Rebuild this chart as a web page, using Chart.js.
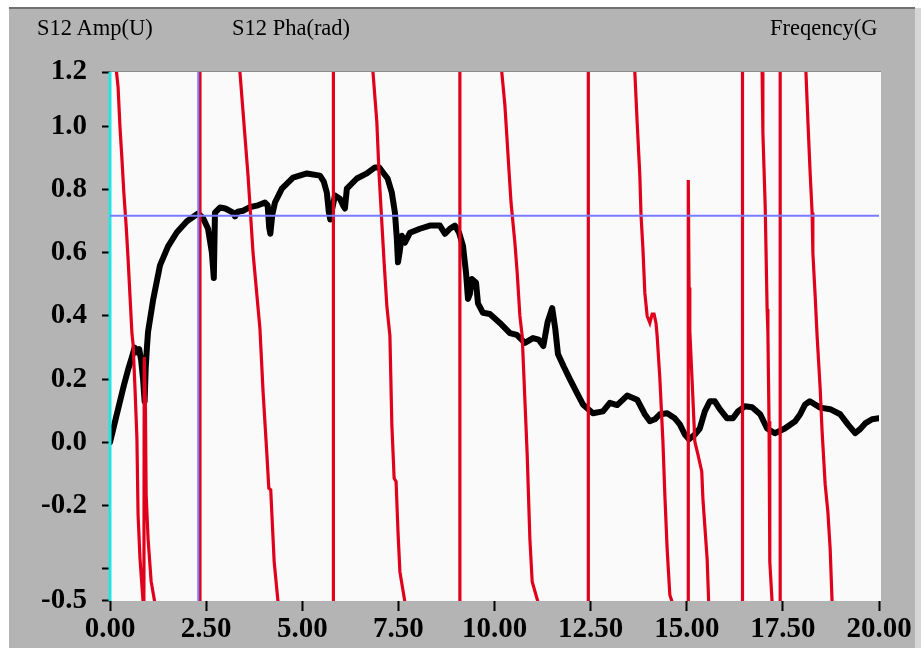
<!DOCTYPE html>
<html>
<head>
<meta charset="utf-8">
<script src="https://cdn.jsdelivr.net/npm/chart.js@4/dist/chart.umd.min.js"></script>
<style>
  html, body { margin: 0; padding: 0; background: #fff; }
  #wrap { position: relative; width: 921px; height: 648px; }
  #grafica { position: absolute; left: 0; top: 0; }
  .cab { position: absolute; top: 15px; font: 22.5px 'Liberation Serif', 'Times New Roman', serif; color: #000; white-space: nowrap; }
</style>
</head>
<body>
<div id="wrap">
  <canvas id="grafica" width="921" height="648"></canvas>
  <div class="cab" style="left:37px">S12 Amp(U)</div>
  <div class="cab" style="left:232px">S12 Pha(rad)</div>
  <div class="cab" style="left:770px">Freqency(G</div>
</div>
<script>
// ── DATOS ─────────────────────────────────────────────────────
// S12 amplitud (negro)
const ampFreq = [0.00, 0.08, 0.16, 0.26, 0.36, 0.47, 0.57, 0.64, 0.70, 0.76, 0.81, 0.86, 0.90, 0.93, 0.96, 0.99,
  1.12, 1.30, 1.51, 1.74, 2.00, 2.29, 2.42, 2.55, 2.65, 2.70, 2.73, 2.86, 3.00, 3.20, 3.25, 3.32, 3.46, 3.65, 3.82,
  4.03, 4.10, 4.14, 4.17, 4.22, 4.29, 4.47, 4.76, 5.12, 5.46, 5.56, 5.64, 5.69, 5.73, 5.78, 5.85, 5.98, 6.06, 6.11,
  6.16, 6.42, 6.68, 6.89, 7.00, 7.10, 7.22, 7.33, 7.41, 7.46, 7.49, 7.53, 7.59, 7.67, 7.80, 8.06, 8.32, 8.58, 8.71,
  8.84, 8.97, 9.08, 9.18, 9.26, 9.31, 9.36, 9.41, 9.52, 9.57, 9.70, 9.88, 10.14, 10.40, 10.58, 10.79, 11.00, 11.15,
  11.27, 11.38, 11.50, 11.58, 11.65, 11.80, 11.96, 12.15, 12.30, 12.56, 12.82, 13.00, 13.19, 13.45, 13.71, 13.91,
  14.04, 14.17, 14.30, 14.49, 14.69, 14.82, 14.95, 15.06, 15.21, 15.34, 15.47, 15.60, 15.73, 15.86, 16.05, 16.20,
  16.33, 16.51, 16.70, 16.91, 17.09, 17.29, 17.55, 17.82, 17.95, 18.08, 18.20, 18.47, 18.73, 18.99, 19.19, 19.38,
  19.50, 19.64, 19.82, 20.00];
const ampValor = [0.00, 0.04, 0.08, 0.13, 0.18, 0.23, 0.27, 0.30, 0.285, 0.295, 0.26, 0.20, 0.13, 0.24, 0.30, 0.35,
  0.45, 0.56, 0.62, 0.665, 0.70, 0.724, 0.71, 0.676, 0.60, 0.52, 0.727, 0.743, 0.74, 0.727, 0.715, 0.73, 0.733, 0.745, 0.749,
  0.759, 0.75, 0.68, 0.66, 0.72, 0.759, 0.803, 0.838, 0.851, 0.844, 0.825, 0.79, 0.73, 0.705, 0.74, 0.781, 0.771, 0.75, 0.74,
  0.803, 0.835, 0.851, 0.870, 0.87, 0.854, 0.835, 0.79, 0.727, 0.644, 0.57, 0.60, 0.654, 0.632, 0.663, 0.676, 0.686, 0.686, 0.66,
  0.676, 0.686, 0.663, 0.622, 0.536, 0.454, 0.47, 0.517, 0.505, 0.44, 0.41, 0.406, 0.378, 0.346, 0.340, 0.315, 0.33, 0.325,
  0.305, 0.38, 0.425, 0.36, 0.28, 0.24, 0.20, 0.155, 0.12, 0.092, 0.098, 0.125, 0.118, 0.148, 0.135, 0.089,
  0.067, 0.073, 0.089, 0.092, 0.076, 0.057, 0.025, 0.01, 0.025, 0.044, 0.098, 0.13, 0.13, 0.105, 0.076, 0.076,
  0.098, 0.114, 0.111, 0.089, 0.044, 0.029, 0.044, 0.067, 0.089, 0.12, 0.13, 0.11, 0.105, 0.089, 0.057, 0.029,
  0.041, 0.06, 0.073, 0.076];

// S12 fase en rad (rojo), se sale del rango visible y se envuelve en ±pi
const faseFreq = [0.00, 0.17, 0.21, 0.26, 0.31, 0.36, 0.42, 0.47, 0.52, 0.57, 0.60, 0.65, 0.70, 0.73, 0.78, 0.86, 0.88,
  0.89, 0.92, 0.94, 0.99, 1.07, 1.17, 1.30, 2.34, 2.34,
  3.38, 3.59, 3.72, 3.90, 3.98, 4.08, 4.13, 4.18, 4.27, 4.37, 4.45, 5.81, 5.81,
  6.84, 6.94, 7.00, 7.07, 7.13, 7.20, 7.28, 7.33, 7.39, 7.44, 7.49, 7.54, 7.67, 7.75, 9.10, 9.10,
  10.19, 10.27, 10.32, 10.38, 10.43, 10.53, 10.59, 10.66, 10.72, 10.77, 10.85, 10.92, 10.98, 11.13, 11.25, 12.44, 12.44,
  13.65, 13.71, 13.78, 13.81, 13.86, 13.91, 13.97, 14.04, 14.10, 14.15, 14.20, 14.23, 14.30, 14.38, 14.43, 14.49, 14.56,
  14.62, 14.70, 15.04, 15.04,
  15.06, 15.08, 15.14, 15.21, 15.29, 15.39, 15.42, 15.53, 15.57, 15.65, 16.45, 16.45,
  16.96, 16.98, 17.04, 17.09, 17.11, 17.14, 17.16, 17.22, 17.26, 17.43, 17.43,
  18.10, 18.15, 18.21, 18.26, 18.28, 18.34, 18.39, 18.47, 18.52, 18.60, 18.67, 18.73, 18.78, 18.85, 20.00];
const faseValor = [2.0, 1.171, 1.124, 0.997, 0.898, 0.79, 0.686, 0.581, 0.463, 0.346, 0.311, 0.171, 0.013, -0.229, -0.368, -0.505, -0.70,
  0.27, 0.13, -0.165, -0.305, -0.44, -0.51, -0.80, -3.14, 3.14,
  1.171, 0.844, 0.60, 0.359, 0.162, -0.038, -0.145, -0.15, -0.378, -0.505, -0.70, -3.14, 3.14,
  1.171, 1.013, 0.844, 0.695, 0.568, 0.432, 0.337, 0.057, -0.114, -0.124, -0.283, -0.41, -0.505, -0.70, -3.14, 3.14,
  1.171, 1.067, 0.971, 0.854, 0.759, 0.632, 0.537, 0.40, 0.337, 0.194, -0.038, -0.305, -0.441, -0.505, -0.70, -3.14, 3.14,
  1.171, 1.013, 0.844, 0.721, 0.613, 0.473, 0.40, 0.378, 0.406, 0.406, 0.378, 0.337, 0.203, 0.003, -0.165, -0.337, -0.483,
  -0.505, -0.80, -3.14, 0.83,
  0.49, 0.352, 0.194, 0.003, -0.038, -0.092, -0.178, -0.368, -0.505, -0.80, -3.14, 3.14,
  1.171, 0.981, 0.749, 0.422, 0.352, 0.067, -0.378, -0.505, -0.80, -3.14, 3.14,
  1.171, 1.019, 0.851, 0.727, 0.60, 0.463, 0.337, 0.171, 0.035, -0.133, -0.219, -0.337, -0.505, -0.80, -2.60];

// Cursores
const cursorFreq = 2.295;
const cursorNivel = 0.717;
const cursorCero = 0.0;

// Ejes
const Y_MIN = -0.502, Y_MAX = 1.172;
const yTickValores = [-0.5, -0.4, -0.2, 0.0, 0.2, 0.4, 0.6, 0.8, 1.0, 1.2];
const yTickEtiquetas = ['-0.5', '', '-0.2', '0.0', '0.2', '0.4', '0.6', '0.8', '1.0', '1.2'];
const xTickValores = [0, 2.5, 5, 7.5, 10, 12.5, 15, 17.5, 20];
const xTickEtiquetas = ['0.00', '2.50', '5.00', '7.50', '10.00', '12.50', '15.00', '17.50', '20.00'];

// ── MARCO ESTILO LABVIEW ──────────────────────────────────────
const marco = {
  id: 'marco',
  beforeDraw(chart) {
    const { ctx, chartArea: a, width, height } = chart;
    ctx.save();
    ctx.fillStyle = '#ffffff';
    ctx.fillRect(0, 0, width, height);
    ctx.fillStyle = '#b4b4b4';
    ctx.fillRect(9, 8, 906, height - 8);
    ctx.fillStyle = '#707070';
    ctx.fillRect(9, 7, 906, 2);
    ctx.fillStyle = '#d6d6d6';
    ctx.fillRect(915, 8, 6, height - 8);
    ctx.fillStyle = '#fafafa';
    ctx.fillRect(a.left, a.top, a.right - a.left + 2, a.bottom - a.top);
    ctx.fillStyle = '#8c8c8c';
    ctx.fillRect(a.left, a.top - 1, a.right - a.left + 2, 1);
    ctx.restore();
  }
};

const puntos = (xs, ys) => xs.map((x, i) => ({ x: x, y: ys[i] }));
const fuenteEje = { family: "'Liberation Serif', 'Times New Roman', serif", size: 29, weight: 'bold' };

new Chart(document.getElementById('grafica'), {
  type: 'line',
  data: {
    datasets: [
      { label: 'cursor', data: [{ x: cursorFreq, y: -1 }, { x: cursorFreq, y: 2 }],
        borderColor: '#7b7bff', borderWidth: 2, pointRadius: 0, clip: 0, order: 0 },
      { label: 'nivel', data: [{ x: 0, y: cursorNivel }, { x: 20, y: cursorNivel }],
        borderColor: '#7b7bff', borderWidth: 2, pointRadius: 0, clip: 0, order: 0 },
      { label: 'cero', data: [{ x: cursorCero, y: -1 }, { x: cursorCero, y: 2 }],
        borderColor: '#22e4e4', borderWidth: 3, pointRadius: 0, clip: { left: 2, top: 0, right: 0, bottom: 0 }, order: 0 },
      { label: 'S12 Pha(rad)', data: puntos(faseFreq, faseValor),
        borderColor: '#e0001b', borderWidth: 3.2, pointRadius: 0, tension: 0, clip: 0, order: 1 },
      { label: 'S12 Amp(U)', data: puntos(ampFreq, ampValor),
        borderColor: '#000000', borderWidth: 6, pointRadius: 0, tension: 0, clip: 0, order: 2,
        borderJoinStyle: 'round', borderCapStyle: 'round' }
    ]
  },
  options: {
    responsive: false,
    animation: false,
    events: [],
    layout: { padding: { left: 0, right: 42, top: 72, bottom: 0 } },
    plugins: { legend: { display: false }, tooltip: { enabled: false } },
    scales: {
      x: {
        type: 'linear', min: 0, max: 20,
        afterFit: s => { s.height = 47; },
        afterBuildTicks: s => { s.ticks = xTickValores.map(v => ({ value: v })); },
        grid: { drawOnChartArea: false, drawTicks: true, tickLength: 10, color: '#000', tickWidth: 2 },
        border: { display: false },
        ticks: { autoSkip: false, maxRotation: 0, padding: 1, color: '#000', font: fuenteEje,
                 callback: (v, i) => xTickEtiquetas[i] }
      },
      y: {
        type: 'linear', min: Y_MIN, max: Y_MAX,
        afterFit: s => { s.width = 110; },
        afterBuildTicks: s => { s.ticks = yTickValores.map(v => ({ value: Math.min(Math.max(v, Y_MIN), Y_MAX) })); },
        grid: { drawOnChartArea: false, drawTicks: true, tickLength: 8, color: '#000', tickWidth: 2 },
        border: { display: false },
        ticks: { autoSkip: false, padding: 15, color: '#000', font: fuenteEje,
                 callback: (v, i) => yTickEtiquetas[i] }
      }
    }
  },
  plugins: [marco]
});
</script>
</body>
</html>
